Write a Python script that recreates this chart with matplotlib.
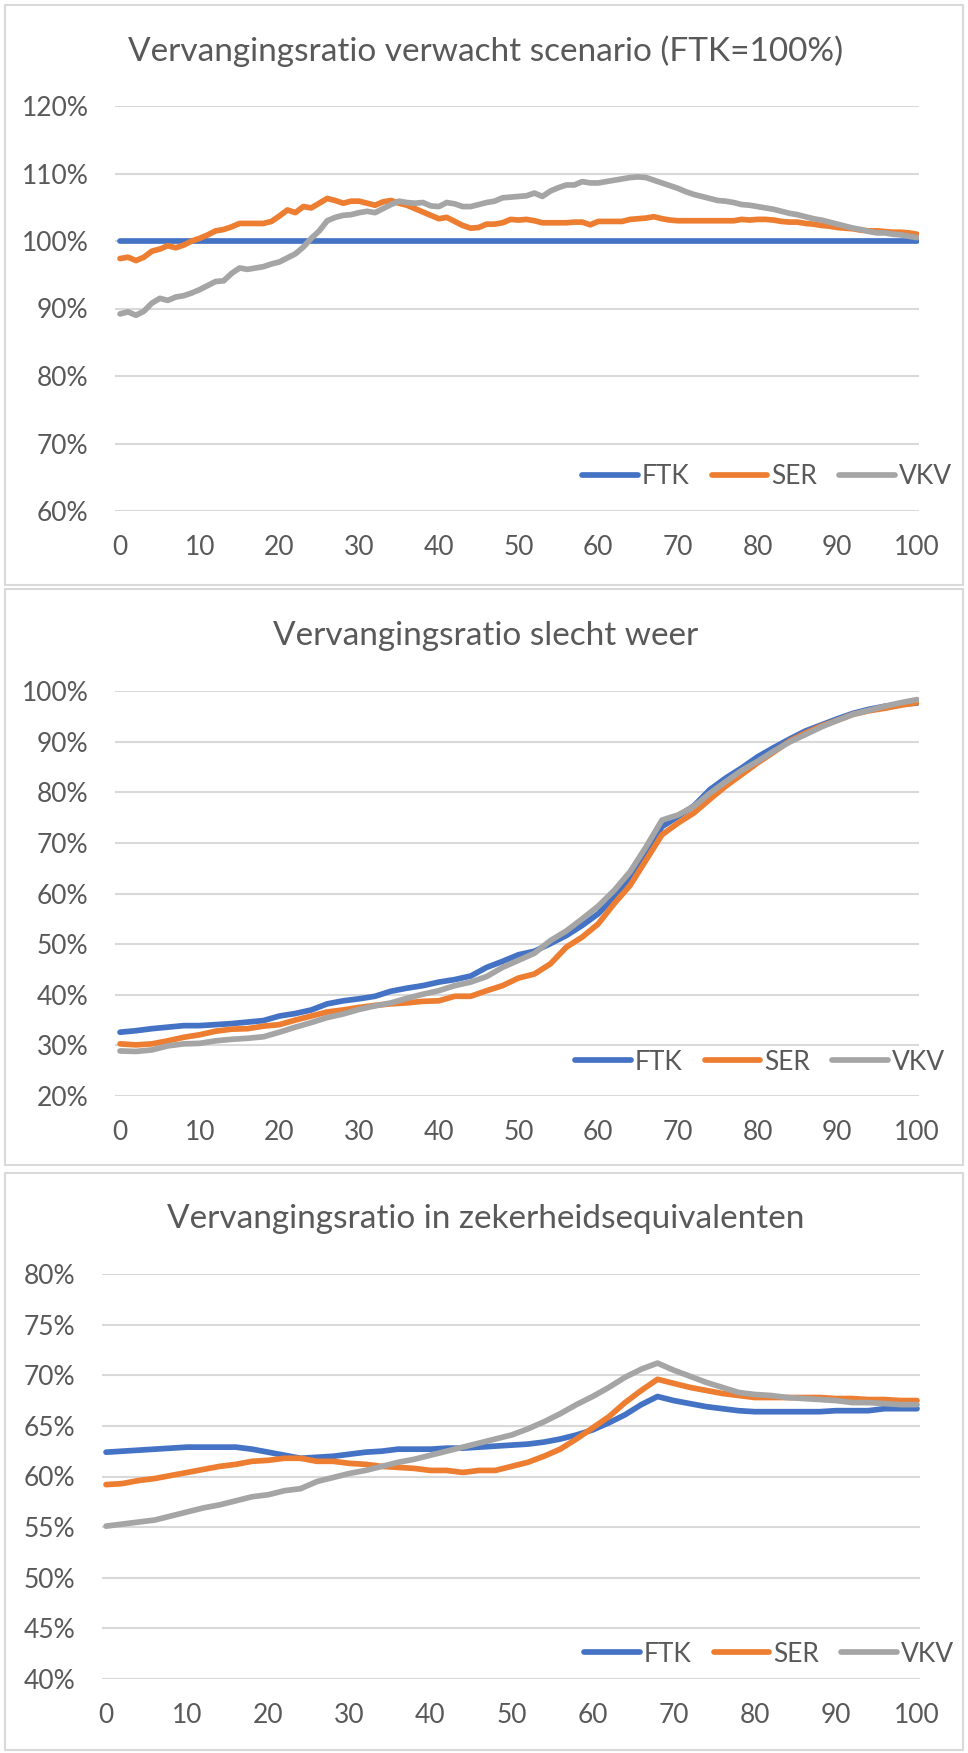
#!/usr/bin/python3
'''
Abstract:
    Plot the three replacement ratio charts (FTK, SER, VKV) stacked in one picture.
Usage:
    plot.py
Output:
    out.png
'''
import numpy as np
from matplotlib import pyplot as plt
from matplotlib.patches import Rectangle

#--------------------------------------------
# Data (values in %)
series_names = ['FTK', 'SER', 'VKV']
colors = ['#4472C4', '#ED7D31', '#A5A5A5']

# Chart 1: verwacht scenario, one point per unit on the x axis
x_1 = list(range(0, 101))
x_ftk_1 = [0, 10, 20, 30, 40, 50, 60, 70, 80, 90, 100]
ftk_1 = [100.0, 100.0, 100.0, 100.0, 100.0, 100.0, 100.0, 100.0, 100.0, 100.0, 100.0]
ser_1 = [
    97.4, 97.6, 97.1, 97.6, 98.5, 98.8, 99.3, 99.0, 99.4, 100.0,
    100.4, 100.9, 101.5, 101.7, 102.1, 102.6, 102.6, 102.6, 102.6, 102.9,
    103.7, 104.6, 104.2, 105.1, 104.9, 105.6, 106.3, 106.0, 105.6, 105.9,
    105.9, 105.6, 105.3, 105.8, 106.0, 105.6, 105.3, 104.8, 104.3, 103.8,
    103.3, 103.5, 102.9, 102.3, 101.9, 102.0, 102.5, 102.5, 102.7, 103.2,
    103.1, 103.2, 103.0, 102.7, 102.7, 102.7, 102.7, 102.8, 102.8, 102.4,
    102.9, 102.9, 102.9, 102.9, 103.2, 103.3, 103.4, 103.6, 103.3, 103.1,
    103.0, 103.0, 103.0, 103.0, 103.0, 103.0, 103.0, 103.0, 103.2, 103.1,
    103.2, 103.2, 103.1, 102.9, 102.8, 102.8, 102.6, 102.5, 102.3, 102.2,
    102.0, 101.9, 101.8, 101.6, 101.5, 101.5, 101.4, 101.3, 101.3, 101.2,
    101.0,
]
vkv_1 = [
    89.2, 89.5, 89.0, 89.6, 90.8, 91.5, 91.2, 91.7, 91.9, 92.3,
    92.8, 93.4, 94.0, 94.1, 95.2, 96.0, 95.8, 96.0, 96.2, 96.6,
    96.9, 97.5, 98.1, 99.1, 100.4, 101.5, 103.0, 103.5, 103.8, 103.9,
    104.2, 104.4, 104.2, 104.8, 105.4, 105.9, 105.7, 105.6, 105.7, 105.2,
    105.1, 105.7, 105.5, 105.1, 105.1, 105.4, 105.7, 105.9, 106.4, 106.5,
    106.6, 106.7, 107.1, 106.6, 107.4, 107.9, 108.3, 108.3, 108.8, 108.6,
    108.6, 108.8, 109.0, 109.2, 109.4, 109.5, 109.4, 109.0, 108.6, 108.2,
    107.8, 107.3, 106.9, 106.6, 106.3, 106.0, 105.9, 105.7, 105.4, 105.3,
    105.1, 104.9, 104.7, 104.4, 104.1, 103.9, 103.6, 103.3, 103.1, 102.8,
    102.5, 102.2, 101.9, 101.7, 101.4, 101.2, 101.2, 101.0, 100.9, 100.7,
    100.5,
]

# Charts 2 and 3: one point every two units
x_2 = list(range(0, 101, 2))
ftk_2 = [
    32.6, 32.9, 33.3, 33.6, 33.9, 33.9, 34.1, 34.3, 34.6, 34.9,
    35.8, 36.3, 37.0, 38.2, 38.8, 39.2, 39.7, 40.7, 41.3, 41.8,
    42.5, 43.0, 43.7, 45.4, 46.6, 47.9, 48.6, 50.1, 51.7, 53.7,
    56.0, 59.3, 63.3, 67.9, 73.2, 75.2, 77.3, 80.5, 82.8, 84.8,
    87.0, 88.8, 90.5, 92.1, 93.3, 94.5, 95.6, 96.4, 97.0, 97.4,
    97.6,
]
ser_2 = [
    30.3, 30.1, 30.3, 30.9, 31.6, 32.1, 32.8, 33.2, 33.3, 33.8,
    34.1, 35.0, 35.8, 36.6, 37.0, 37.5, 37.9, 38.2, 38.4, 38.7,
    38.8, 39.7, 39.7, 40.8, 41.8, 43.3, 44.1, 46.1, 49.4, 51.4,
    54.0, 58.0, 61.6, 66.6, 71.6, 73.9, 75.9, 78.6, 81.2, 83.5,
    85.8, 87.9, 90.1, 91.7, 93.1, 94.2, 95.4, 96.1, 96.6, 97.2,
    97.7,
]
vkv_2 = [
    28.9, 28.8, 29.1, 29.9, 30.3, 30.4, 30.9, 31.2, 31.4, 31.7,
    32.6, 33.6, 34.5, 35.5, 36.2, 37.1, 37.8, 38.4, 39.3, 40.1,
    40.8, 41.8, 42.5, 43.6, 45.4, 46.8, 48.2, 50.7, 52.6, 55.0,
    57.5, 60.6, 64.3, 69.2, 74.5, 75.5, 77.2, 79.8, 82.1, 84.3,
    86.1, 88.1, 89.9, 91.4, 92.9, 94.2, 95.4, 96.2, 97.0, 97.7,
    98.3,
]

x_3 = list(range(0, 101, 2))
ftk_3 = [
    62.4, 62.5, 62.6, 62.7, 62.8, 62.9, 62.9, 62.9, 62.9, 62.7,
    62.4, 62.1, 61.8, 61.9, 62.0, 62.2, 62.4, 62.5, 62.7, 62.7,
    62.7, 62.8, 62.8, 62.9, 63.0, 63.1, 63.2, 63.4, 63.7, 64.1,
    64.6, 65.3, 66.1, 67.1, 67.9, 67.5, 67.2, 66.9, 66.7, 66.5,
    66.4, 66.4, 66.4, 66.4, 66.4, 66.5, 66.5, 66.5, 66.7, 66.7,
    66.7,
]
ser_3 = [
    59.2, 59.3, 59.6, 59.8, 60.1, 60.4, 60.7, 61.0, 61.2, 61.5,
    61.6, 61.8, 61.8, 61.5, 61.5, 61.3, 61.2, 61.0, 60.9, 60.8,
    60.6, 60.6, 60.4, 60.6, 60.6, 61.0, 61.4, 62.0, 62.7, 63.7,
    64.8, 65.9, 67.3, 68.5, 69.6, 69.2, 68.8, 68.5, 68.2, 68.0,
    67.8, 67.8, 67.8, 67.8, 67.8, 67.7, 67.7, 67.6, 67.6, 67.5,
    67.5,
]
vkv_3 = [
    55.1, 55.3, 55.5, 55.7, 56.1, 56.5, 56.9, 57.2, 57.6, 58.0,
    58.2, 58.6, 58.8, 59.5, 59.9, 60.3, 60.6, 61.0, 61.4, 61.7,
    62.1, 62.5, 62.9, 63.3, 63.7, 64.1, 64.7, 65.4, 66.2, 67.1,
    67.9, 68.8, 69.8, 70.6, 71.2, 70.5, 69.9, 69.3, 68.8, 68.3,
    68.1, 68.0, 67.8, 67.7, 67.6, 67.5, 67.3, 67.3, 67.2, 67.1,
    67.1,
]

titles = [
    'Vervangingsratio verwacht scenario (FTK=100%)',
    'Vervangingsratio slecht weer',
    'Vervangingsratio in zekerheidsequivalenten',
]
x_ticks = [0, 10, 20, 30, 40, 50, 60, 70, 80, 90, 100]
y_ticks_1 = [60, 70, 80, 90, 100, 110, 120]
y_ticks_2 = [20, 30, 40, 50, 60, 70, 80, 90, 100]
y_ticks_3 = [40, 45, 50, 55, 60, 65, 70, 75, 80]

#--------------------------------------------
# Layout, in pixels of the 968x1753 picture
W, H = 968, 1753
plt.rcParams['font.family'] = ['Lato', 'DejaVu Sans']
plt.rcParams['xtick.major.pad'] = 17
plt.rcParams['ytick.major.pad'] = 19
plt.rcParams['xtick.major.size'] = 0
plt.rcParams['ytick.major.size'] = 0
text_color = '#595959'
grid_color = '#D9D9D9'
tick_size = 19

def px_rect(left, top, right, bottom):
    return [left / W, 1 - bottom / H, (right - left) / W, (bottom - top) / H]

fig = plt.figure(figsize=(W / 100, H / 100), dpi=100)

# panel frames
for top, bottom in [(5, 585), (589, 1165), (1173, 1750)]:
    fig.patches.append(Rectangle(
        (5 / W, 1 - bottom / H), (963 - 5) / W, (bottom - top) / H,
        transform=fig.transFigure, fill=False, edgecolor=grid_color, lw=1.5,
    ))

panels = [
    # axes box, xlim, ylim, yticks, x data, series, title y, legend center
    (px_rect(115, 106, 919, 511), (-0.63, 100.25), (60, 120), y_ticks_1,
     [x_ftk_1, x_1, x_1], [ftk_1, ser_1, vkv_1], 51, (767, 477)),
    (px_rect(115, 691, 919, 1096), (-0.63, 100.25), (20, 100), y_ticks_2,
     [x_2, x_2, x_2], [ftk_2, ser_2, vkv_2], 636, (760, 1062)),
    (px_rect(102, 1274, 920, 1679), (-0.5, 100.37), (40, 80), y_ticks_3,
     [x_3, x_3, x_3], [ftk_3, ser_3, vkv_3], 1219, (769, 1654)),
]

for i, (box, xlim, ylim, yticks, xs, ys, title_y, leg_c) in enumerate(panels):
    ax = fig.add_axes(box)
    for name, color, xv, yv in zip(series_names, colors, xs, ys):
        ax.plot(xv, yv, color=color, lw=4.1, label=name, solid_capstyle='round')
    ax.set_xlim(*xlim)
    ax.set_ylim(*ylim)
    ax.set_xticks(x_ticks)
    ax.set_yticks(yticks)
    ax.set_yticklabels(['%d%%' % v for v in yticks])
    ax.grid(axis='y', color=grid_color, lw=1.5)
    ax.set_axisbelow(True)
    for s in ax.spines.values():
        s.set_visible(False)
    ax.tick_params(axis='both', labelsize=tick_size, labelcolor=text_color)
    fig.text(486 / W, 1 - title_y / H, titles[i], ha='center', va='center',
             fontsize=24, color=text_color)
    ax.legend(loc='center', bbox_to_anchor=(leg_c[0] / W, 1 - leg_c[1] / H),
              bbox_transform=fig.transFigure, ncol=3, frameon=False,
              fontsize=tick_size, labelcolor=text_color, handlelength=2.1,
              handletextpad=0.15, columnspacing=0.85)

plt.savefig('out.png', dpi=100)
